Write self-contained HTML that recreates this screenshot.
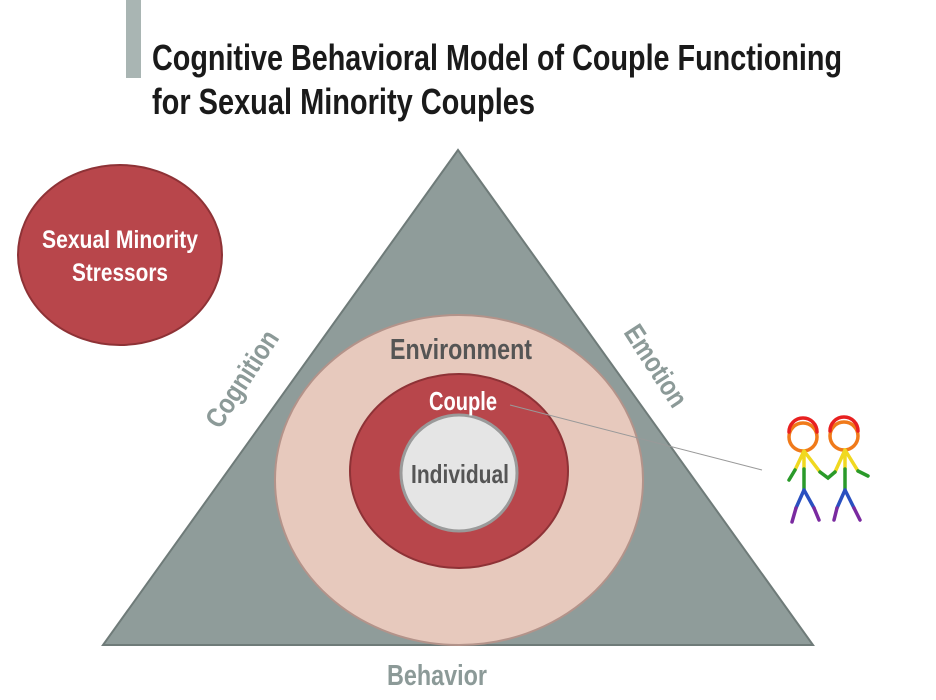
<!DOCTYPE html>
<html><head><meta charset="utf-8"><style>body{margin:0;background:#fff}svg{display:block}text{font-family:"Liberation Sans",sans-serif;font-weight:bold}</style></head><body>
<svg width="936" height="700" viewBox="0 0 936 700">
<rect x="126" y="0" width="15" height="78" fill="#a9b5b3"/>
<text x="152" y="70" font-size="36" fill="#1a1a1a" textLength="690" lengthAdjust="spacingAndGlyphs">Cognitive Behavioral Model of Couple Functioning</text>
<text x="152" y="114" font-size="36" fill="#1a1a1a" textLength="383" lengthAdjust="spacingAndGlyphs">for Sexual Minority Couples</text>
<polygon points="458,150 103,645 813,645" fill="#8f9c9a" stroke="#6f7b79" stroke-width="2"/>
<ellipse cx="459" cy="480" rx="184" ry="165" fill="#e7c9bd" stroke="#b3938a" stroke-width="2"/>
<ellipse cx="459" cy="471" rx="109" ry="97" fill="#b8464b" stroke="#8e3236" stroke-width="2"/>
<circle cx="459" cy="473" r="58" fill="#e5e5e5" stroke="#9a9a9a" stroke-width="3"/>
<ellipse cx="120" cy="255" rx="102" ry="90" fill="#b8464b" stroke="#8e3236" stroke-width="2"/>
<text x="120" y="248" font-size="25" fill="#fff" text-anchor="middle" textLength="156" lengthAdjust="spacingAndGlyphs">Sexual Minority</text>
<text x="120" y="281" font-size="25" fill="#fff" text-anchor="middle" textLength="96" lengthAdjust="spacingAndGlyphs">Stressors</text>
<text x="461" y="359" font-size="29" fill="#555" text-anchor="middle" textLength="142" lengthAdjust="spacingAndGlyphs">Environment</text>
<text x="463" y="410" font-size="26" fill="#fff" text-anchor="middle" textLength="68" lengthAdjust="spacingAndGlyphs">Couple</text>
<text x="460" y="483" font-size="26" fill="#555" text-anchor="middle" textLength="98" lengthAdjust="spacingAndGlyphs">Individual</text>
<text transform="translate(250,384) rotate(-57)" font-size="28" fill="#8c9a98" text-anchor="middle" textLength="110" lengthAdjust="spacingAndGlyphs">Cognition</text>
<text transform="translate(648,371) rotate(57)" font-size="28" fill="#8c9a98" text-anchor="middle" textLength="92" lengthAdjust="spacingAndGlyphs">Emotion</text>
<text x="437" y="685" font-size="29" fill="#8c9a98" text-anchor="middle" textLength="100" lengthAdjust="spacingAndGlyphs">Behavior</text>
<line x1="510" y1="405" x2="762" y2="470" stroke="#999" stroke-width="1"/>
<g fill="none" stroke-width="3.5" stroke-linecap="round">
<circle cx="803" cy="437" r="14" stroke="#f07a1a"/>
<path d="M789,432 A14,14 0 0 1 817,432" stroke="#e82020"/>
<circle cx="844" cy="436" r="14" stroke="#f07a1a"/>
<path d="M830,431 A14,14 0 0 1 858,431" stroke="#e82020"/>
<path d="M804,451 L804,469 M804,451 L795,470 M804,451 L820,472" stroke="#f0d820"/>
<path d="M845,450 L845,469 M845,450 L835,472 M845,450 L858,471" stroke="#f0d820"/>
<path d="M804,469 L804,490 M795,470 L789,480 M820,472 L828,478 L835,472 M845,469 L845,490 M858,471 L868,476" stroke="#2a9a2a"/>
<path d="M804,490 L796,508 M804,490 L814,508 M845,490 L837,508 M845,490 L854,508" stroke="#2a50c0"/>
<path d="M796,508 L792,522 M814,508 L819,520 M837,508 L834,520 M854,508 L860,520" stroke="#7a2aa0"/>
</g>
</svg>
</body></html>
